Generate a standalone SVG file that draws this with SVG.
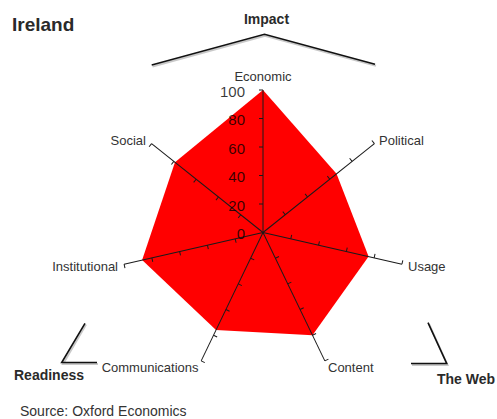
<svg xmlns="http://www.w3.org/2000/svg" width="497" height="419" viewBox="0 0 497 419">
<style>
.lbl{font-family:"Liberation Sans",Arial,sans-serif;font-size:13px;fill:#333}
.scale{font-family:"Liberation Sans",Arial,sans-serif;font-size:15px;fill:#000;fill-opacity:0.78;text-anchor:end}
.bold{font-family:"Liberation Sans",Arial,sans-serif;font-weight:bold;fill:#2a2a2a}
.br{fill:none;stroke:#111;stroke-width:1.6}
.brs{fill:none;stroke:#888;stroke-width:2;stroke-opacity:0.45}
</style>
<defs>
<g id="ax" stroke="#1a1a1a" stroke-width="1" fill="none">
<line x1="263" y1="232.5" x2="263" y2="90"/>
<line x1="259" y1="204" x2="263" y2="204"/>
<line x1="259" y1="175.5" x2="263" y2="175.5"/>
<line x1="259" y1="147" x2="263" y2="147"/>
<line x1="259" y1="118.5" x2="263" y2="118.5"/>
<line x1="259" y1="90" x2="263" y2="90"/>
</g>
</defs>
<rect width="497" height="419" fill="#fff"/>
<text class="bold" x="12" y="31" font-size="19">Ireland</text>
<g id="data">
<polygon fill="#ff0000" points="263,90 336.53,173.86 368.58,256.6 312.46,335.21 216.01,330.08 142.13,260.09 174.98,162.31"/>
</g>
<g id="axes">
<use href="#ax"/>
<use href="#ax" transform="rotate(51.4286 263 232.5)"/>
<use href="#ax" transform="rotate(102.857 263 232.5)"/>
<use href="#ax" transform="rotate(154.286 263 232.5)"/>
<use href="#ax" transform="rotate(205.714 263 232.5)"/>
<use href="#ax" transform="rotate(257.143 263 232.5)"/>
<use href="#ax" transform="rotate(308.571 263 232.5)"/>
</g>
<g id="scale">
<text class="scale" x="245" y="96.5">100</text>
<text class="scale" x="245" y="125">80</text>
<text class="scale" x="245" y="153.5">60</text>
<text class="scale" x="245" y="182">40</text>
<text class="scale" x="245" y="210.5">20</text>
<text class="scale" x="245" y="239">0</text>
</g>
<g id="axis-labels">
<text class="lbl" x="263" y="81" text-anchor="middle">Economic</text>
<text class="lbl" x="379" y="145">Political</text>
<text class="lbl" x="408" y="271">Usage</text>
<text class="lbl" x="328" y="372">Content</text>
<text class="lbl" x="198.5" y="372" text-anchor="end">Communications</text>
<text class="lbl" x="118" y="271" text-anchor="end">Institutional</text>
<text class="lbl" x="146" y="145" text-anchor="end">Social</text>
</g>
<g id="impact">
<polyline class="brs" points="152.5,66.5 265,35.8 376,65.8"/>
<polyline class="br" points="151.7,65 264.5,34.3 375,64.3"/>
<text class="bold" x="266.5" y="24" font-size="14" text-anchor="middle">Impact</text>
</g>
<g id="readiness">
<polyline class="brs" points="86,324.5 63,364 98,364"/>
<polyline class="br" points="85,323.3 61.7,362.5 97,362.5"/>
<text class="bold" x="14" y="380" font-size="14">Readiness</text>
</g>
<g id="the-web">
<polyline class="brs" points="429,324 447.5,365 412,365"/>
<polyline class="br" points="428,322.7 446.7,363.5 411,363.5"/>
<text class="bold" x="437" y="383.5" font-size="14">The Web</text>
</g>
<text class="lbl" x="20" y="416" style="font-size:14px">Source: Oxford Economics</text>
</svg>
